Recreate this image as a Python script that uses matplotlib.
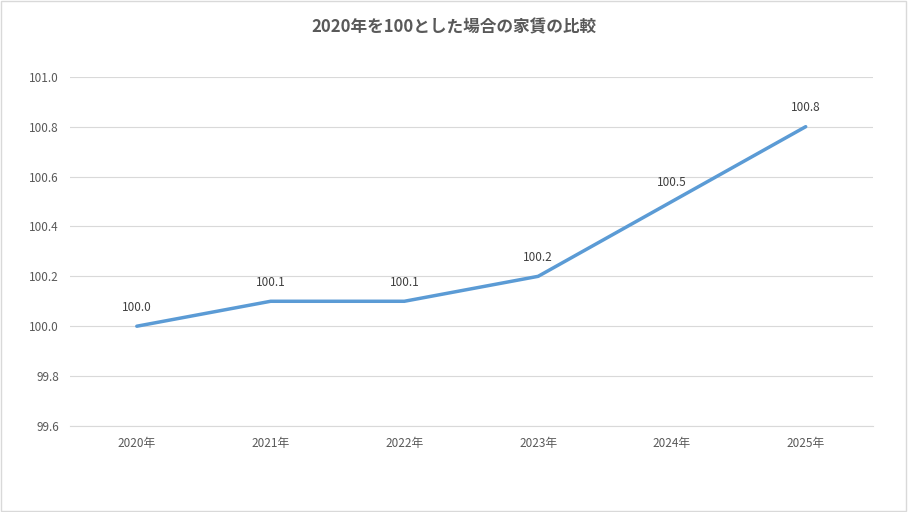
import matplotlib.pyplot as plt
from matplotlib.patches import Rectangle

plt.rcParams['font.family'] = ['Noto Sans CJK JP', 'DejaVu Sans']

years = ["2020年", "2021年", "2022年", "2023年", "2024年", "2025年"]
values = [100.0, 100.1, 100.1, 100.2, 100.5, 100.8]
yticks = [99.6, 99.8, 100.0, 100.2, 100.4, 100.6, 100.8, 101.0]

fig = plt.figure(figsize=(9.08, 5.12), dpi=100)
fig.patches.append(Rectangle((0.001, 0.002), 0.997, 0.996, transform=fig.transFigure,
                             fill=False, edgecolor="#d9d9d9", linewidth=1))
ax = fig.add_axes([0.077, 0.168, 0.884, 0.682])

xs = range(len(years))
ax.plot(xs, values, color="#5b9bd5", linewidth=2.5, solid_capstyle="round")
for x, v in zip(xs, values):
    ax.annotate(f"{v:.1f}", (x, v), xytext=(0, 9), textcoords="offset points",
                ha="center", va="bottom", fontsize=8.5, color="#404040")

ax.set_xlim(-0.5, len(years) - 0.5)
ax.set_ylim(99.6, 101.0)
ax.set_yticks(yticks)
ax.set_yticklabels([f"{t:.1f}" for t in yticks])
ax.set_xticks(list(xs))
ax.set_xticklabels(years)
ax.tick_params(length=0, labelsize=8.5, labelcolor="#595959", pad=8)
ax.grid(axis="y", color="#d9d9d9", linewidth=0.8)
ax.set_axisbelow(True)
for s in ["top", "right", "left"]:
    ax.spines[s].set_visible(False)
ax.spines["bottom"].set_color("#d9d9d9")

fig.suptitle("2020年を100とした場合の家賃の比較", y=0.965, fontsize=12,
             fontweight="bold", color="#595959")

fig.savefig("out.png", dpi=100)
